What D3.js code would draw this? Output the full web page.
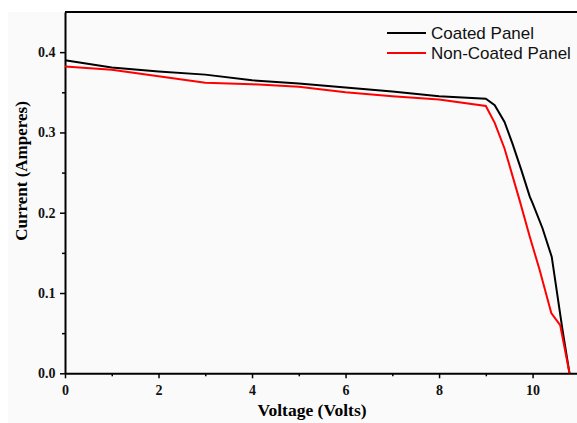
<!DOCTYPE html>
<html>
<head>
<meta charset="utf-8">
<script src="https://cdn.jsdelivr.net/npm/d3@7"></script>
<style>
  body { margin: 0; background: #fff; }
  svg { display: block; }
</style>
</head>
<body>
<div id="chart"></div>
<script>
// Voltage (V) / current (A) readings
const coatedV = [0, 1, 2, 3, 4, 5, 6, 7, 8, 9, 9.19, 9.4, 9.57, 9.76, 9.94, 10.0, 10.21, 10.41, 10.64, 10.79];
const coatedI = [0.390, 0.381, 0.376, 0.372, 0.365, 0.361, 0.356, 0.351, 0.345, 0.342, 0.334, 0.313, 0.286, 0.253, 0.220, 0.212, 0.181, 0.145, 0.054, 0.0];
const plainV = [0, 1, 2, 3, 4, 5, 6, 7, 8, 9, 9.19, 9.4, 9.72, 9.94, 10.15, 10.4, 10.59, 10.79];
const plainI = [0.382, 0.378, 0.370, 0.362, 0.360, 0.357, 0.350, 0.345, 0.341, 0.333, 0.312, 0.280, 0.216, 0.170, 0.129, 0.075, 0.060, 0.0];
const xTicks = [0, 2, 4, 6, 8, 10];
const yTicks = [0.0, 0.1, 0.2, 0.3, 0.4];
const seriesNames = ['Coated Panel', 'Non-Coated Panel'];

const W = 577, H = 423;
const margin = { top: 12, right: 0, bottom: 50, left: 65 };

const svg = d3.select('#chart').append('svg')
  .attr('width', W).attr('height', H);

// light panel behind the plot
svg.append('rect')
  .attr('x', 8).attr('y', 12)
  .attr('width', W - 8).attr('height', H - 12)
  .attr('fill', '#fafafa');

const x = d3.scaleLinear().domain([0, 10.95]).range([margin.left, W - margin.right]);
const y = d3.scaleLinear().domain([0, 0.45]).range([373.3, margin.top]);

const serif = '"Liberation Serif", "Times New Roman", serif';

// x axis
const xAxis = svg.append('g').attr('transform', `translate(0,${y(0)})`)
  .call(d3.axisBottom(x).tickValues(xTicks).tickFormat(d3.format('d')).tickSize(5).tickSizeOuter(0));
svg.append('g').attr('transform', `translate(0,${y(0)})`)
  .call(d3.axisBottom(x).tickValues([1, 3, 5, 7, 9]).tickFormat('').tickSize(3).tickSizeOuter(0))
  .select('.domain').remove();

// y axis
const yAxis = svg.append('g').attr('transform', `translate(${margin.left},0)`)
  .call(d3.axisLeft(y).tickValues(yTicks).tickFormat(d3.format('.1f')).tickSize(5).tickSizeOuter(0));
svg.append('g').attr('transform', `translate(${margin.left},0)`)
  .call(d3.axisLeft(y).tickValues([0.05, 0.15, 0.25, 0.35]).tickFormat('').tickSize(3).tickSizeOuter(0))
  .select('.domain').remove();

svg.selectAll('.domain').attr('stroke', '#000').attr('stroke-width', 2);
svg.selectAll('.tick line').attr('stroke', '#000').attr('stroke-width', 1.5);
svg.selectAll('.tick text').style('font', `bold 14px ${serif}`).attr('fill', '#111');
xAxis.selectAll('.tick text').attr('dy', '1.0em');
yAxis.selectAll('.tick text').attr('dx', '-0.1em');

// top frame line
svg.append('line')
  .attr('x1', margin.left).attr('x2', W)
  .attr('y1', y(0.45)).attr('y2', y(0.45))
  .attr('stroke', '#000').attr('stroke-width', 2);

// axis titles
svg.append('text')
  .attr('x', 312).attr('y', 416)
  .attr('text-anchor', 'middle')
  .style('font', `bold 17.5px ${serif}`)
  .text('Voltage (Volts)');
svg.append('text')
  .attr('transform', 'translate(27,171) rotate(-90)')
  .attr('text-anchor', 'middle')
  .style('font', `bold 17px ${serif}`)
  .text('Current (Amperes)');

const line = d3.line().x(d => x(d[0])).y(d => y(d[1]));
const series = [
  { name: seriesNames[0], color: '#000', pts: d3.zip(coatedV, coatedI) },
  { name: seriesNames[1], color: '#f00', pts: d3.zip(plainV, plainI) }
];

svg.selectAll('path.curve').data(series).enter().append('path')
  .attr('class', 'curve')
  .attr('d', d => line(d.pts))
  .attr('fill', 'none')
  .attr('stroke', d => d.color)
  .attr('stroke-width', 2);

// legend
const lg = svg.append('g');
series.forEach((s, i) => {
  const ly = 33 + i * 20;
  lg.append('line')
    .attr('x1', 387).attr('x2', 426).attr('y1', ly).attr('y2', ly)
    .attr('stroke', s.color).attr('stroke-width', 2);
  lg.append('text')
    .attr('x', 431).attr('y', ly + 6)
    .style('font', '17px "Liberation Sans", Arial, sans-serif')
    .attr('fill', '#111')
    .text(s.name);
});
</script>
</body>
</html>
